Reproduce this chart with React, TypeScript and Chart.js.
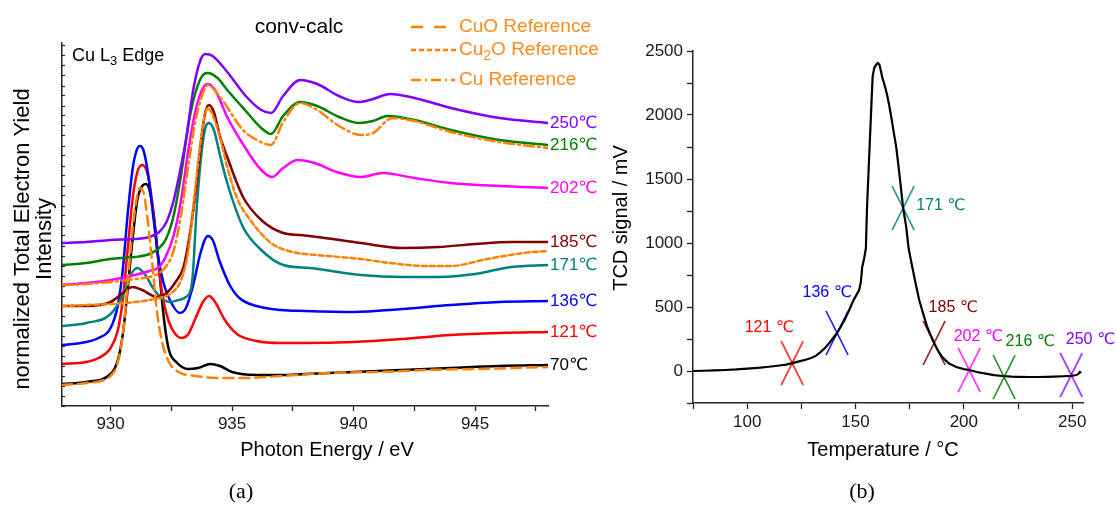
import React, { useEffect, useRef } from 'react';
import { Chart, registerables } from 'chart.js';

Chart.register(...registerables);

const SANS = '"Liberation Sans", Arial, "DejaVu Sans", sans-serif';
const SERIF = '"Liberation Serif", "DejaVu Serif", serif';
const AXIS = '#262626';
const ORANGE = '#ff8000';
const ORANGE_TEXT = '#ff8a1c';

// ---------------- Panel (a): Cu L3 edge XAS ----------------
const energyTicks = [930, 932.5, 935, 937.5, 940, 942.5, 945, 947.5];

const eCuO = [928, 929, 930, 930.3, 930.5, 930.7, 930.9, 931.1, 931.2, 931.35, 931.5, 931.7, 931.9, 932.1, 932.4, 932.8, 933.5, 934.5, 935.5, 937, 939, 941, 943, 945, 948];
const vCuO = [2.1, 2.3, 3.0, 4.4, 7.1, 12.1, 17.6, 21.1, 21.8, 21.4, 19.1, 14.6, 9.6, 6.6, 4.4, 3.4, 3.0, 2.8, 2.8, 3.0, 3.3, 3.4, 3.6, 3.7, 3.9];

const eCu2O = [928, 929, 930, 931, 932, 932.5, 932.9, 933.2, 933.5, 933.8, 934.0, 934.2, 934.5, 934.8, 935.2, 935.75, 936.6, 937.5, 938.5, 940.3, 941.5, 943, 944, 945.5, 947, 948];
const vCu2O = [10.0, 10.1, 10.2, 10.4, 10.8, 11.3, 12.6, 15.6, 22.1, 28.1, 29.8, 29.1, 26.9, 23.9, 20.8, 18.6, 16.3, 15.4, 15.1, 14.7, 14.3, 14.0, 14.0, 14.7, 15.3, 15.5];

const eCu = [928, 929, 930, 931, 931.6, 932.0, 932.3, 932.6, 932.9, 933.2, 933.5, 933.8, 934.0, 934.5, 935.45, 936.1, 936.6, 937.1, 937.8, 938.5, 939.4, 940.3, 940.8, 941.6, 942.5, 944, 946, 948];
const vCu = [12.1, 12.2, 12.4, 12.7, 12.9, 13.3, 14.0, 15.6, 19.1, 24.1, 28.6, 31.3, 32.1, 30.9, 27.6, 26.5, 26.1, 28.4, 30.3, 29.6, 28.0, 27.1, 27.3, 28.8, 28.5, 27.4, 26.4, 25.8];

const e70 = [928, 929, 930, 930.3, 930.5, 930.7, 930.9, 931.1, 931.3, 931.45, 931.6, 931.8, 932.0, 932.2, 932.4, 932.7, 933.2, 933.6, 934.1, 934.5, 935, 936, 937, 938, 940, 942, 944, 946, 948];
const v70 = [2.2, 2.4, 3.2, 4.6, 7.1, 11.6, 16.6, 20.6, 22.0, 22.2, 21.6, 18.6, 13.6, 8.6, 5.6, 4.4, 3.7, 3.8, 4.2, 4.0, 3.4, 3.1, 3.1, 3.2, 3.4, 3.6, 3.8, 4.0, 4.1];

const e121 = [928, 929, 929.5, 930, 930.3, 930.5, 930.7, 930.9, 931.1, 931.3, 931.5, 931.7, 931.9, 932.1, 932.4, 932.7, 932.9, 933.2, 933.5, 933.8, 934.05, 934.3, 934.7, 935.2, 936, 937, 938, 940, 942, 944, 946, 948];
const v121 = [4.2, 4.4, 4.8, 5.8, 7.6, 10.6, 15.6, 20.6, 23.4, 24.1, 23.4, 20.6, 16.1, 11.6, 8.4, 7.1, 6.8, 7.2, 8.8, 10.4, 11.0, 10.4, 8.6, 7.2, 6.5, 6.3, 6.3, 6.4, 6.7, 7.1, 7.3, 7.4];

const e136 = [928, 929, 929.5, 930, 930.3, 930.5, 930.7, 930.9, 931.05, 931.2, 931.35, 931.55, 931.75, 931.95, 932.2, 932.5, 932.85, 933.1, 933.4, 933.7, 934.0, 934.2, 934.5, 934.9, 935.3, 936, 937, 938, 940, 942, 944, 946, 948];
const v136 = [6.1, 6.4, 6.8, 7.8, 10.1, 13.6, 19.1, 23.6, 25.4, 26.0, 25.6, 23.1, 19.1, 15.1, 12.1, 10.3, 9.3, 9.8, 12.1, 15.3, 17.0, 16.6, 14.4, 12.1, 10.8, 10.0, 9.6, 9.5, 9.4, 9.7, 10.1, 10.4, 10.5];

const e171 = [928, 929, 930, 930.5, 930.8, 931.1, 931.4, 931.8, 932.2, 932.45, 932.8, 933.1, 933.35, 933.55, 933.75, 933.9, 934.05, 934.25, 934.5, 934.8, 935.45, 936.2, 937.1, 938.2, 940.3, 942, 943.5, 945, 946.5, 948];
const v171 = [8.0, 8.3, 9.2, 11.1, 13.0, 13.8, 13.2, 11.6, 10.6, 10.4, 10.6, 10.9, 12.3, 20.0, 25.5, 27.8, 28.3, 27.6, 25.1, 22.3, 17.9, 15.6, 14.1, 13.8, 13.1, 12.9, 12.9, 13.2, 13.9, 14.1];

const e185 = [928, 929, 930, 930.5, 930.9, 931.3, 931.9, 932.3, 932.7, 933.0, 933.25, 933.5, 933.75, 933.9, 934.05, 934.25, 934.5, 934.8, 935.45, 936.2, 937.1, 937.8, 938.5, 940.3, 942, 943.5, 945, 946.5, 948];
const v185 = [10.0, 10.0, 10.4, 11.3, 11.9, 11.6, 10.9, 11.3, 12.5, 13.9, 17.0, 21.5, 27.0, 29.4, 30.1, 29.4, 27.0, 24.9, 20.9, 18.6, 17.3, 17.1, 16.9, 16.3, 15.8, 15.9, 16.2, 16.4, 16.4];

const e202 = [928, 929, 930, 931, 931.6, 932.0, 932.3, 932.6, 932.9, 933.2, 933.5, 933.8, 934.0, 934.3, 934.8, 935.6, 936.2, 936.65, 937.1, 937.7, 938.4, 939.3, 940.3, 941.2, 942.5, 944, 946, 948];
const v202 = [12.1, 12.3, 12.6, 13.1, 13.5, 13.9, 15.1, 17.1, 20.6, 25.6, 29.6, 31.8, 32.2, 31.6, 28.9, 25.6, 23.6, 22.9, 23.8, 24.6, 24.3, 23.4, 22.9, 23.3, 22.8, 22.3, 22.0, 21.8];

const e216 = [928, 929, 930, 931, 931.6, 932.0, 932.3, 932.6, 932.9, 933.2, 933.5, 933.8, 934.0, 934.4, 934.8, 935.6, 936.2, 936.6, 937.1, 937.8, 938.5, 939.4, 940.2, 940.8, 941.4, 942.5, 944, 946, 948];
const v216 = [14.1, 14.3, 14.7, 14.9, 15.2, 15.8, 16.8, 19.1, 23.1, 28.1, 31.4, 33.1, 33.3, 32.8, 31.6, 29.4, 27.8, 27.2, 29.0, 30.4, 30.0, 28.9, 28.3, 28.5, 29.0, 28.6, 27.6, 26.6, 26.1];

const e250 = [928, 929, 930, 931, 931.6, 932.0, 932.3, 932.6, 932.85, 933.1, 933.4, 933.7, 933.9, 934.2, 934.8, 935.6, 936.2, 936.6, 937.1, 937.8, 938.5, 939.4, 940.2, 940.8, 941.5, 942.5, 944, 946, 948];
const v250 = [16.3, 16.4, 16.6, 16.7, 16.9, 17.4, 18.4, 20.6, 23.4, 26.6, 31.6, 34.6, 35.2, 35.0, 33.4, 30.9, 29.6, 29.3, 31.0, 32.6, 32.2, 31.0, 30.4, 30.7, 31.2, 30.8, 29.8, 28.8, 28.3];

const referenceSeries = [
  { name: 'CuO Reference', e: eCuO, v: vCuO, dash: [10, 6] },
  { name: 'Cu2O Reference', e: eCu2O, v: vCu2O, dash: [5, 3] },
  { name: 'Cu Reference', e: eCu, v: vCu, dash: [10, 4, 2, 4] },
];

const temperatureSeries = [
  { name: '250℃', e: e250, v: v250, color: '#8000ff' },
  { name: '216℃', e: e216, v: v216, color: '#008000' },
  { name: '202℃', e: e202, v: v202, color: '#ff00ff' },
  { name: '185℃', e: e185, v: v185, color: '#800000' },
  { name: '171℃', e: e171, v: v171, color: '#008080' },
  { name: '136℃', e: e136, v: v136, color: '#0000ff' },
  { name: '121℃', e: e121, v: v121, color: '#ff0000' },
  { name: '70℃', e: e70, v: v70, color: '#000000' },
];

// ---------------- Panel (b): TCD signal ----------------
const tcdT = [75, 80, 85, 90, 95, 100, 105, 110, 115, 118, 120.8, 124, 127, 129.5, 131.7, 134, 136, 137.9, 139.8, 141.5, 143, 145, 147.1, 149, 151.7, 152.5, 153.1, 154, 154.8, 155.3, 156.3, 157.1, 157.9, 158.7, 159.4, 160.2, 161, 161.8, 162.3, 163.5, 164.6, 165.5, 166.5, 167.6, 168.8, 170.2, 172, 173.4, 174.5, 176.2, 177.8, 179.4, 181.2, 183.1, 184.8, 186.3, 188, 190, 193, 196.5, 200, 202.5, 206, 210, 214, 217.7, 222, 226, 230, 234, 238, 242, 246, 249, 251.5, 252.8, 253.5, 254.2];
const tcdSignal = [0, 2, 5, 8, 12, 18, 25, 33, 43, 50, 62, 75, 88, 102, 118, 150, 182, 219, 260, 297, 340, 400, 477, 550, 633, 700, 813, 880, 960, 1270, 1670, 1985, 2300, 2370, 2390, 2406, 2395, 2340, 2297, 2230, 2156, 2080, 1984, 1870, 1750, 1547, 1273, 1125, 960, 813, 680, 555, 450, 344, 275, 219, 160, 110, 60, 31, 15, 8, -8, -20, -32, -39, -44, -46, -47, -47, -46, -44, -41, -38, -33, -25, -8, -15];

const markerLabels = ['121 ℃', '136 ℃', '171 ℃', '185 ℃', '202 ℃', '216 ℃', '250 ℃'];
const markerT = [120.8, 141.5, 172, 186.3, 202.5, 218.6, 249.6];
const markerSignal = [62, 297, 1273, 219, 8, -47, -31];
const markerColors = ['#ff0000', '#0000ff', '#008080', '#800000', '#ff00ff', '#008000', '#8000ff'];

Chart.defaults.font.family = SANS;

function drawRich(ctx: CanvasRenderingContext2D, parts: { t: string; sub?: boolean }[], x: number, y: number, size: number, color: string) {
  ctx.fillStyle = color;
  ctx.textBaseline = 'middle';
  ctx.textAlign = 'left';
  let cx = x;
  for (const p of parts) {
    const fs = p.sub ? Math.round(size * 0.72) : size;
    ctx.font = `${fs}px ${SANS}`;
    ctx.fillText(p.t, cx, p.sub ? y + size * 0.32 : y);
    cx += ctx.measureText(p.t).width;
  }
}

const panelAText = {
  id: 'panelAText',
  afterDraw(chart: any) {
    const ctx: CanvasRenderingContext2D = chart.ctx;
    const xs = chart.scales.x;
    const ys = chart.scales.y;
    ctx.save();
    ctx.fillStyle = '#000';
    ctx.font = `21px ${SANS}`;
    ctx.textAlign = 'center';
    ctx.textBaseline = 'middle';
    ctx.fillText('conv-calc', 299, 27);
    drawRich(ctx, [{ t: 'Cu L' }, { t: '3', sub: true }, { t: ' Edge' }], 72, 56, 18, '#000');
    const legendRows = [
      { y: 27, x2: 447, parts: [{ t: 'CuO Reference' }] },
      { y: 50, x2: 456, parts: [{ t: 'Cu' }, { t: '2', sub: true }, { t: 'O Reference' }] },
      { y: 80, x2: 455, parts: [{ t: 'Cu Reference' }] },
    ];
    legendRows.forEach((row, i) => {
      ctx.save();
      ctx.strokeStyle = ORANGE;
      ctx.lineWidth = 2.5;
      ctx.setLineDash(i === 0 ? [12, 11] : referenceSeries[i].dash);
      ctx.beginPath();
      ctx.moveTo(411, row.y);
      ctx.lineTo(row.x2, row.y);
      ctx.stroke();
      ctx.restore();
      drawRich(ctx, row.parts, 459, row.y, 19, ORANGE_TEXT);
    });
    ctx.font = `17px ${SANS}`;
    ctx.textAlign = 'left';
    ctx.textBaseline = 'middle';
    temperatureSeries.forEach((s) => {
      ctx.fillStyle = s.color;
      ctx.fillText(s.name, xs.right + 2, ys.getPixelForValue(s.v[s.v.length - 1]));
    });
    ctx.fillStyle = '#000';
    ctx.font = `20px ${SANS}`;
    ctx.textAlign = 'center';
    ctx.fillText('Photon Energy / eV', 327, 450);
    ctx.save();
    ctx.translate(23, 239);
    ctx.rotate(-Math.PI / 2);
    ctx.font = `22px ${SANS}`;
    ctx.fillText('normalized Total Electron Yield', 0, 0);
    ctx.fillText('Intensity', 0, 22);
    ctx.restore();
    ctx.font = `22px ${SERIF}`;
    ctx.fillText('(a)', 241, 492);
    ctx.restore();
  },
};

const labelOffsets = [
  { dx: -23, dy: -35, align: 'center' },
  { dx: -10, dy: -40, align: 'center' },
  { dx: 13, dy: -2, align: 'left' },
  { dx: 19, dy: -35, align: 'center' },
  { dx: 9, dy: -33, align: 'center' },
  { dx: 26, dy: -35, align: 'center' },
  { dx: 19, dy: -35, align: 'center' },
];

const panelBText = {
  id: 'panelBText',
  afterDraw(chart: any) {
    const ctx: CanvasRenderingContext2D = chart.ctx;
    const xs = chart.scales.x;
    const ys = chart.scales.y;
    ctx.save();
    ctx.font = `16px ${SANS}`;
    ctx.textBaseline = 'middle';
    markerLabels.forEach((txt, i) => {
      const o = labelOffsets[i];
      ctx.fillStyle = markerColors[i];
      ctx.textAlign = o.align as CanvasTextAlign;
      ctx.fillText(txt, xs.getPixelForValue(markerT[i]) + o.dx, ys.getPixelForValue(markerSignal[i]) + o.dy);
    });
    ctx.fillStyle = '#000';
    ctx.font = `20px ${SANS}`;
    ctx.textAlign = 'center';
    ctx.fillText('Temperature / °C', 283, 450);
    ctx.save();
    ctx.translate(21, 218);
    ctx.rotate(-Math.PI / 2);
    ctx.fillText('TCD signal / mV', 0, 0);
    ctx.restore();
    ctx.font = `22px ${SERIF}`;
    ctx.fillText('(b)', 262, 492);
    ctx.restore();
  },
};

function makeCross(color: string): HTMLCanvasElement {
  const c = document.createElement('canvas');
  c.width = 24;
  c.height = 46;
  const g = c.getContext('2d')!;
  g.strokeStyle = color;
  g.lineWidth = 1.5;
  g.beginPath();
  g.moveTo(1, 1);
  g.lineTo(23, 45);
  g.moveTo(23, 1);
  g.lineTo(1, 45);
  g.stroke();
  return c;
}

export default function App() {
  const refA = useRef<HTMLCanvasElement>(null);
  const refB = useRef<HTMLCanvasElement>(null);

  useEffect(() => {
    const datasetsA: any[] = [];
    referenceSeries.forEach((s) => {
      datasetsA.push({
        label: s.name,
        data: s.e.map((x, i) => ({ x, y: s.v[i] })),
        borderColor: ORANGE,
        borderDash: s.dash,
        borderWidth: 2.5,
      });
    });
    temperatureSeries.forEach((s) => {
      datasetsA.push({
        label: s.name,
        data: s.e.map((x, i) => ({ x, y: s.v[i] })),
        borderColor: s.color,
        borderWidth: 2.5,
      });
    });

    const chartA = new Chart(refA.current!, {
      type: 'line',
      data: { datasets: datasetsA },
      options: {
        responsive: false,
        animation: false,
        layout: { padding: { top: 43, right: 52, left: 0, bottom: 0 } },
        plugins: { legend: { display: false }, tooltip: { enabled: false }, title: { display: false } },
        elements: { point: { radius: 0 }, line: { cubicInterpolationMode: 'monotone', borderCapStyle: 'round' } },
        scales: {
          x: {
            type: 'linear',
            min: 928,
            max: 948,
            afterFit: (s: any) => { s.height = 101; },
            afterBuildTicks: (s: any) => { s.ticks = energyTicks.map((value) => ({ value })); },
            grid: { drawOnChartArea: false, drawTicks: true, tickLength: 5, color: AXIS, tickWidth: 1.3 },
            border: { display: true, color: AXIS, width: 1.5 },
            ticks: {
              callback: (v: any) => (Number(v) % 5 === 0 ? String(v) : ''),
              font: { size: 17, family: SANS },
              color: '#1a1a1a',
              padding: 3,
              maxRotation: 0,
              autoSkip: false,
            },
          },
          y: {
            type: 'linear',
            min: 0,
            max: 36.3,
            afterFit: (s: any) => { s.width = 62; },
            grid: { drawOnChartArea: false, drawTicks: true, tickLength: -3, color: AXIS, tickWidth: 1.2 },
            border: { display: true, color: AXIS, width: 1.5 },
            ticks: { display: false, stepSize: 1, includeBounds: false } as any,
          },
        },
      } as any,
      plugins: [panelAText],
    });

    const crosses = markerColors.map(makeCross);
    const chartB = new Chart(refB.current!, {
      type: 'line',
      data: {
        datasets: [
          {
            label: 'TCD',
            data: tcdT.map((x, i) => ({ x, y: tcdSignal[i] })),
            borderColor: '#000',
            borderWidth: 2.2,
            pointRadius: 0,
            tension: 0,
          },
          {
            label: 'markers',
            data: markerT.map((x, i) => ({ x, y: markerSignal[i] })),
            showLine: false,
            pointRadius: 10,
            pointStyle: (c: any) => crosses[c.dataIndex],
            clip: false,
          } as any,
        ],
      },
      options: {
        responsive: false,
        animation: false,
        layout: { padding: { top: 51, right: 33, left: 0, bottom: 0 } },
        plugins: { legend: { display: false }, tooltip: { enabled: false }, title: { display: false } },
        scales: {
          x: {
            type: 'linear',
            min: 75,
            max: 255,
            afterFit: (s: any) => { s.height = 104; },
            grid: { drawOnChartArea: false, drawTicks: true, tickLength: 6, color: AXIS, tickWidth: 1.3 },
            border: { display: true, color: AXIS, width: 1.5 },
            ticks: {
              stepSize: 25,
              includeBounds: false,
              callback: (v: any) => (Number(v) % 50 === 0 ? String(v) : ''),
              font: { size: 17, family: SANS },
              color: '#1a1a1a',
              padding: 3,
              maxRotation: 0,
              autoSkip: false,
            } as any,
          },
          y: {
            type: 'linear',
            min: -250,
            max: 2500,
            afterFit: (s: any) => { s.width = 93; },
            grid: { drawOnChartArea: false, drawTicks: true, tickLength: 6, color: AXIS, tickWidth: 1.3 },
            border: { display: true, color: AXIS, width: 1.5 },
            ticks: {
              stepSize: 250,
              includeBounds: false,
              callback: (v: any) => (Number(v) >= 0 && Number(v) % 500 === 0 ? String(v) : ''),
              font: { size: 17, family: SANS },
              color: '#1a1a1a',
              padding: 4,
              autoSkip: false,
            } as any,
          },
        },
      } as any,
      plugins: [panelBText],
    });

    return () => {
      chartA.destroy();
      chartB.destroy();
    };
  }, []);

  return (
    <div style={{ position: 'absolute', left: 0, top: 0, width: 1116, height: 507, background: '#fff', overflow: 'hidden' }}>
      <canvas ref={refA} width={600} height={507} style={{ position: 'absolute', left: 0, top: 0 }} />
      <canvas ref={refB} width={516} height={507} style={{ position: 'absolute', left: 600, top: 0 }} />
    </div>
  );
}
